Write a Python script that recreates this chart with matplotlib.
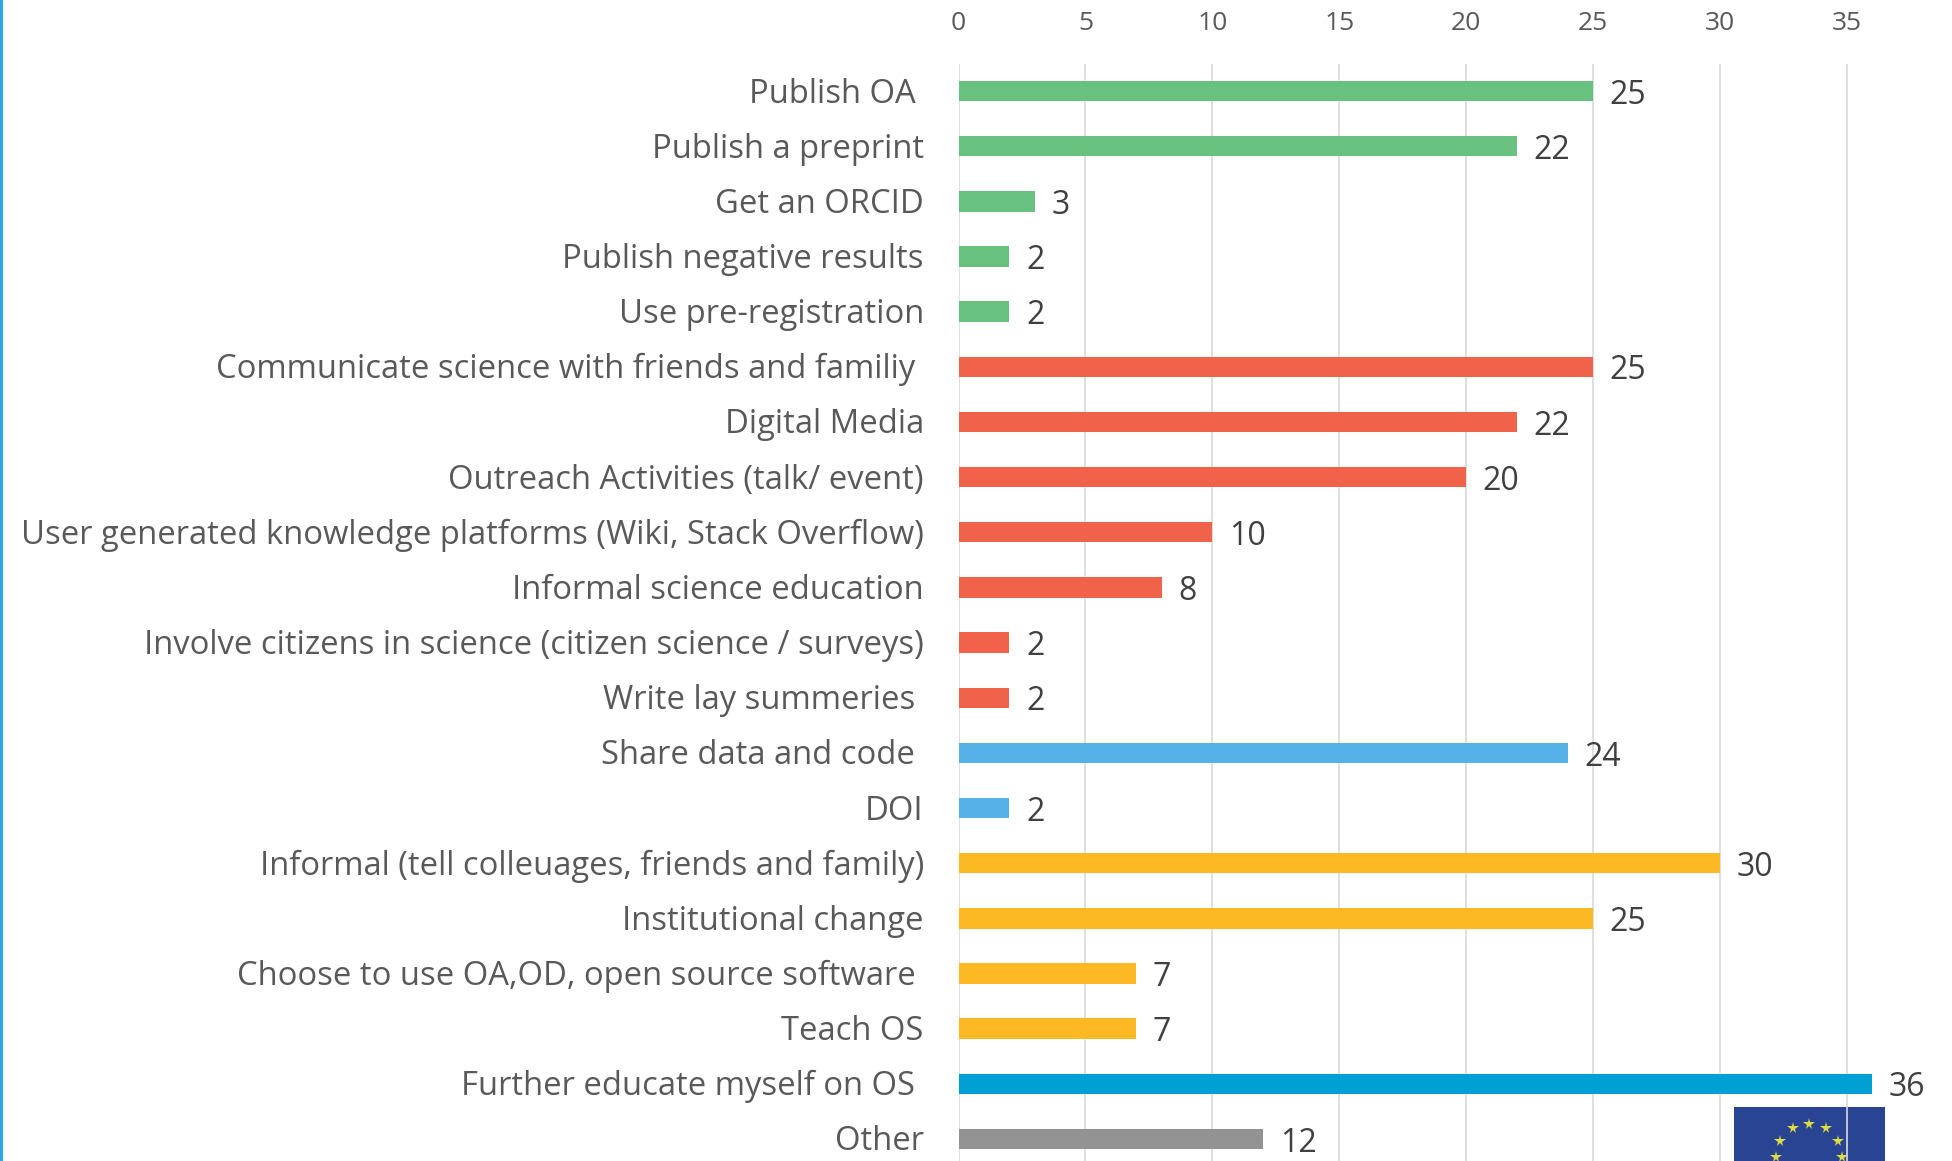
import numpy as np
import matplotlib
matplotlib.use('Agg')
import matplotlib.pyplot as plt
from matplotlib.patches import Rectangle
from matplotlib.transforms import ScaledTranslation

W, H = 1952, 1161

categories = ['Publish OA ', 'Publish a preprint', 'Get an ORCID', 'Publish negative results',
              'Use pre-registration', 'Communicate science with friends and familiy ', 'Digital Media',
              'Outreach Activities (talk/ event)',
              'User generated knowledge platforms (Wiki, Stack Overflow)', 'Informal science education',
              'Involve citizens in science (citizen science / surveys)', 'Write lay summeries ',
              'Share data and code ', 'DOI', 'Informal (tell colleuages, friends and family)',
              'Institutional change', 'Choose to use OA,OD, open source software ', 'Teach OS',
              'Further educate myself on OS ', 'Other']
values = [25, 22, 3, 2, 2, 25, 22, 20, 10, 8, 2, 2, 24, 2, 30, 25, 7, 7, 36, 12]
colors = ['#69C17F'] * 5 + ['#F0624A'] * 7 + ['#55B1E8'] * 2 + ['#FDB924'] * 4 + ['#009FD4', '#939393']
x_ticks = [0, 5, 10, 15, 20, 25, 30, 35]

TEXT = '#595959'
plt.rcParams['font.family'] = ['Open Sans', 'DejaVu Sans']

fig = plt.figure(figsize=(W / 100, H / 100), dpi=100)

# backdrop in pixel coordinates: left edge line and the EU flag logo
bg = fig.add_axes([0, 0, 1, 1], zorder=0)
bg.set_xlim(0, W)
bg.set_ylim(H, 0)
bg.axis('off')
bg.add_patch(Rectangle((0, 0), 3, H, color='#29ABE2', lw=0))
bg.add_patch(Rectangle((1734, 1107), 151, 60, color='#2A4494', lw=0))
for a in np.arange(0, 360, 30):
    bg.plot(1809 + 33 * np.sin(np.radians(a)), 1157 - 33 * np.cos(np.radians(a)), marker='*', ms=8.5,
            color='#DDDC45', mew=0)

ax = fig.add_axes([958.5 / W, 0, (W - 958.5) / W, (H - 64) / H], zorder=1)
ax.patch.set_alpha(0)
ax.barh(range(len(values)), values, height=0.37, color=colors, zorder=3)
ax.set_xlim(0, (W - 958.5) / 25.38)
ax.set_ylim(19.4, -0.49)
ax.xaxis.tick_top()
ax.set_xticks(x_ticks)
ax.set_yticks(range(len(values)))
ax.set_yticklabels(categories)
ax.tick_params(axis='x', length=0, pad=20, labelsize=19, labelcolor=TEXT)
ax.tick_params(axis='y', length=0, pad=25, labelsize=23.6, labelcolor=TEXT)
# nudge category labels up a little
for lab in ax.get_yticklabels():
    lab.set_transform(lab.get_transform() + ScaledTranslation(0, 1 / 100, fig.dpi_scale_trans))
ax.grid(axis='x', color='#D9D9D9', lw=1.2, zorder=1)
ax.set_axisbelow(False)
for s in ax.spines.values():
    s.set_visible(False)

for i, v in enumerate(values):
    ax.annotate(str(v), (v, i), xytext=(12, -3), textcoords='offset points', va='center', ha='left',
                fontsize=23, color='#404040', zorder=4)

fig.savefig('out.png', dpi=100)
